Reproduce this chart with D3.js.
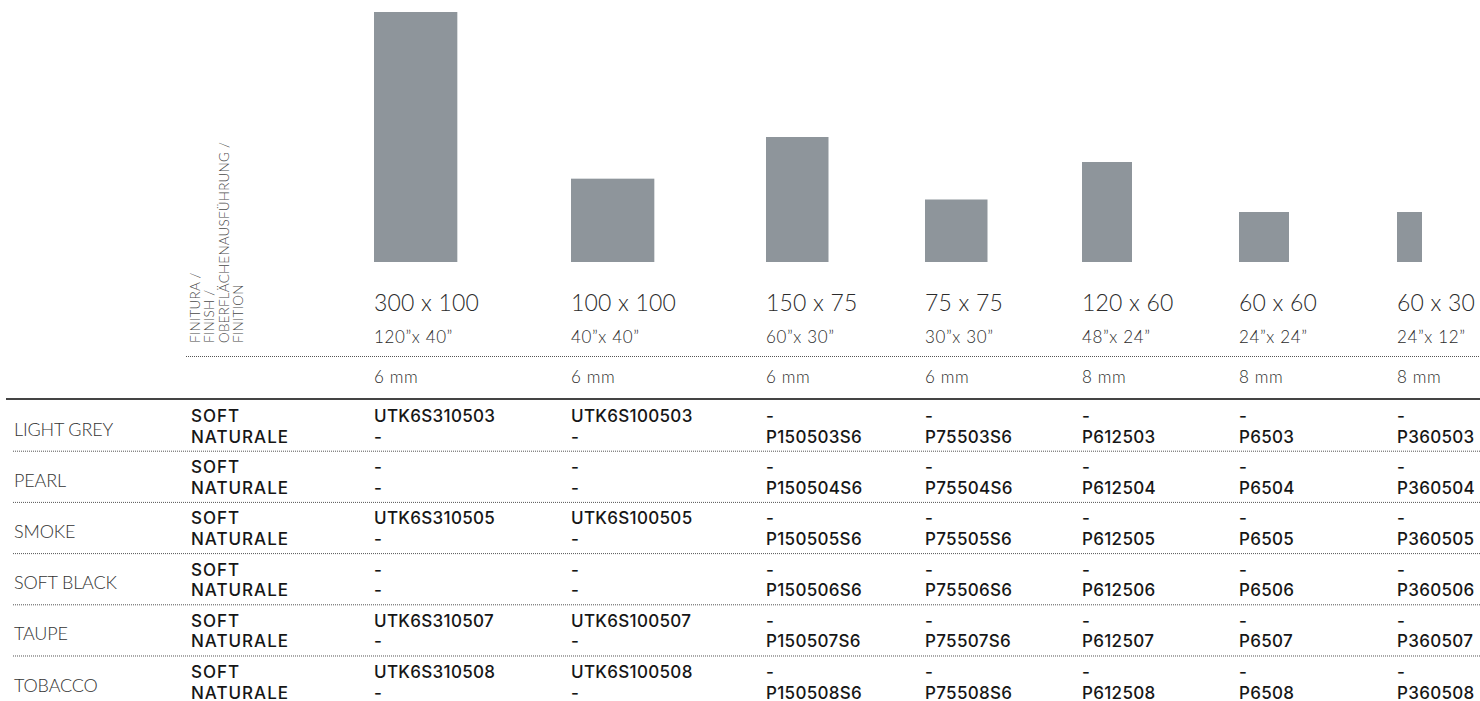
<!DOCTYPE html>
<html>
<head>
<meta charset="utf-8">
<script src="https://cdn.jsdelivr.net/npm/d3@7"></script>
<style>
  html, body { margin: 0; padding: 0; background: #fff; }
  svg { display: block; }
  text { font-family: Lato, "Noto Sans", sans-serif; }
  .b { font-family: Inter, Lato, sans-serif; }
</style>
</head>
<body>
<svg id="chart" width="1480" height="701"></svg>
<script>
// ---------- DATA ----------
const sizeLabels   = ["300 x 100", "100 x 100", "150 x 75", "75 x 75", "120 x 60", "60 x 60", "60 x 30"];
const inchLabels   = ["120”x 40”", "40”x 40”", "60”x 30”", "30”x 30”", "48”x 24”", "24”x 24”", "24”x 12”"];
const tileLength   = [300, 100, 150, 75, 120, 60, 60];   // cm (bar height)
const tileWidth    = [100, 100, 75, 75, 60, 60, 30];     // cm (bar width)
const thickness    = ["6 mm", "6 mm", "6 mm", "6 mm", "8 mm", "8 mm", "8 mm"];
const colours      = ["LIGHT GREY", "PEARL", "SMOKE", "SOFT BLACK", "TAUPE", "TOBACCO"];
const finishes     = ["SOFT", "NATURALE"];
const finishHeader = ["FINITURA /", "FINISH /", "OBERFLÄCHENAUSFÜHRUNG /", "FINITION"];
const softCodes = [
  ["UTK6S310503", "UTK6S100503", "-", "-", "-", "-", "-"],
  ["-", "-", "-", "-", "-", "-", "-"],
  ["UTK6S310505", "UTK6S100505", "-", "-", "-", "-", "-"],
  ["-", "-", "-", "-", "-", "-", "-"],
  ["UTK6S310507", "UTK6S100507", "-", "-", "-", "-", "-"],
  ["UTK6S310508", "UTK6S100508", "-", "-", "-", "-", "-"]
];
const naturaleCodes = [
  ["-", "-", "P150503S6", "P75503S6", "P612503", "P6503", "P360503"],
  ["-", "-", "P150504S6", "P75504S6", "P612504", "P6504", "P360504"],
  ["-", "-", "P150505S6", "P75505S6", "P612505", "P6505", "P360505"],
  ["-", "-", "P150506S6", "P75506S6", "P612506", "P6506", "P360506"],
  ["-", "-", "P150507S6", "P75507S6", "P612507", "P6507", "P360507"],
  ["-", "-", "P150508S6", "P75508S6", "P612508", "P6508", "P360508"]
];

// ---------- LAYOUT ----------
const W = 1480, H = 701;
const colStarts = [374, 571, 766, 925, 1082, 1239, 1397];
const baseY = 262;            // bar baseline
const tableTop = 399;         // solid rule
const rowH = 51.2;
const barColor = "#8e959b";

const svg = d3.select("#chart");

// fit letter-spacing of a text style so that a sample string reaches a target width
function spacingFor(attrs, sample, target) {
  const t = svg.append("text").text(sample);
  Object.entries(attrs).forEach(([k, v]) => t.attr(k, v));
  const w = t.node().getComputedTextLength();
  t.remove();
  return (target - w) / sample.length;
}

const xCol = d3.scaleOrdinal().domain(sizeLabels).range(colStarts);
const cm = d3.scaleLinear().domain([0, 300]).range([0, 250]);

const sizes = sizeLabels.map((s, i) => ({
  label: s, inch: inchLabels[i], len: tileLength[i], wid: tileWidth[i], mm: thickness[i]
}));

// bars
svg.append("g").selectAll("rect").data(sizes).join("rect")
  .attr("x", d => xCol(d.label))
  .attr("y", d => baseY - cm(d.len))
  .attr("width", d => cm(d.wid))
  .attr("height", d => cm(d.len))
  .attr("fill", barColor);

// styles
const sBig  = {"font-size": 23, "font-weight": 300};
const sInch = {"font-size": 17, "font-weight": 300};
const sRow  = {"font-size": 18, "font-weight": 300};
const sHdr  = {"font-size": 13.5, "font-weight": 300};
const sBold = {"font-size": 17, "font-weight": 500, "class": "b"};
const lsBig  = spacingFor(sBig, "300 x 100", 105);
const lsInch = spacingFor(sInch, "120”x 40”", 79);
const lsRow  = spacingFor(sRow, "LIGHT GREY", 99);
const lsHdr  = spacingFor(sHdr, "OBERFLÄCHENAUSFÜHRUNG /", 201);
const lsBold = spacingFor(sBold, "NATURALE", 98);
const lsCode = spacingFor(sBold, "UTK6S310507", 120);

function style(sel, s, ls) {
  Object.entries(s).forEach(([k, v]) => sel.attr(k, v));
  return sel.attr("letter-spacing", ls);
}

// size labels
style(svg.append("g").selectAll("text").data(sizes).join("text")
  .attr("x", d => xCol(d.label)).attr("y", 311).attr("fill", "#2b2b2b")
  .text(d => d.label), sBig, lsBig);

style(svg.append("g").selectAll("text").data(sizes).join("text")
  .attr("x", d => xCol(d.label)).attr("y", 343).attr("fill", "#2b2b2b")
  .text(d => d.inch), sInch, lsInch);

style(svg.append("g").selectAll("text").data(sizes).join("text")
  .attr("x", d => xCol(d.label)).attr("y", 383).attr("fill", "#2b2b2b")
  .text(d => d.mm), sInch, lsInch);

// rotated finish header
const hdr = svg.append("g").attr("transform", "translate(0,343) rotate(-90)");
style(hdr.selectAll("text").data(finishHeader).join("text")
  .attr("x", 0).attr("y", (d, i) => 200 + i * 14.3).attr("fill", "#4a4a4a")
  .text(d => d), sHdr, lsHdr);

// dotted rule under header
svg.append("line").attr("x1", 186).attr("x2", W).attr("y1", 356.5).attr("y2", 356.5)
  .attr("stroke", "#555").attr("stroke-width", 1).attr("stroke-dasharray", "1,1");

// solid rule
svg.append("line").attr("x1", 6).attr("x2", W).attr("y1", tableTop).attr("y2", tableTop)
  .attr("stroke", "#444").attr("stroke-width", 2);

// rows
const rows = svg.append("g").selectAll("g").data(colours).join("g")
  .attr("transform", (d, i) => `translate(0,${tableTop + i * rowH})`);

style(rows.append("text").attr("x", 14).attr("y", 36.5).attr("fill", "#333")
  .text(d => d), sRow, lsRow);

finishes.forEach((f, k) => {
  style(rows.append("text").attr("x", 191).attr("y", 23 + k * 20.5).attr("fill", "#161616")
    .text(f), sBold, lsBold);
});

rows.each(function(c, r) {
  const g = d3.select(this);
  [softCodes[r], naturaleCodes[r]].forEach((codes, k) => {
    style(g.selectAll(null).data(codes).join("text")
      .attr("x", (d, j) => xCol(sizeLabels[j])).attr("y", 23 + k * 20.5).attr("fill", "#161616")
      .text(d => d), sBold, lsCode);
  });
});

// dotted row separators
rows.filter((d, i) => i < colours.length - 1).append("line")
  .attr("x1", 13).attr("x2", W).attr("y1", 52.2).attr("y2", 52.2)
  .attr("stroke", "#555").attr("stroke-width", 1).attr("stroke-dasharray", "1,1");
</script>
</body>
</html>
